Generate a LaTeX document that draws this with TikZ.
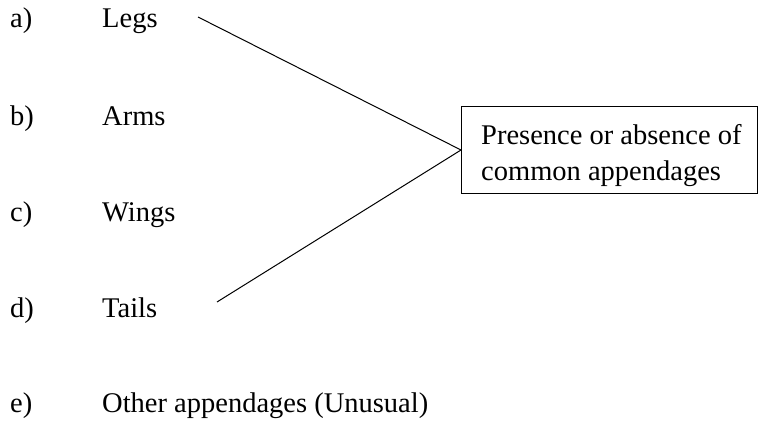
\documentclass[tikz,border=0pt]{standalone}
\usepackage{fontspec}
\setmainfont{Liberation Serif}
\begin{document}
\begin{tikzpicture}[x=1pt,y=-1pt,
  lbl/.style={anchor=base west,inner sep=0pt,font=\fontsize{28.5}{34}\selectfont},
  conn/.style={line width=1pt}]
\useasboundingbox (0,0) rectangle (758,425);
\node[lbl] (la) at (10,28) {a)};
\node[lbl] (ta) at (102,28) {Legs};
\node[lbl] (lb) at (10,126) {b)};
\node[lbl] (tb) at (102,126) {Arms};
\node[lbl] (lc) at (10,222) {c)};
\node[lbl] (tc) at (102,222) {Wings};
\node[lbl] (ld) at (10,317) {d)};
\node[lbl] (td) at (102,317) {Tails};
\node[lbl] (le) at (10,412) {e)};
\node[lbl] (te) at (102,412) {Other appendages (Unusual)};
\node[draw,line width=1pt,minimum width=296pt,minimum height=87pt,anchor=north west,inner sep=0pt] (box) at (461,106) {};
\node[lbl] (t1) at (481,145) {Presence or absence of};
\node[lbl] (t2) at (481,180) {common appendages};
\coordinate (sa) at (198,17);
\coordinate (sd) at (217,302);
\draw[conn] (sa) -- (box.west);
\draw[conn] (sd) -- (box.west);
\end{tikzpicture}
\end{document}
